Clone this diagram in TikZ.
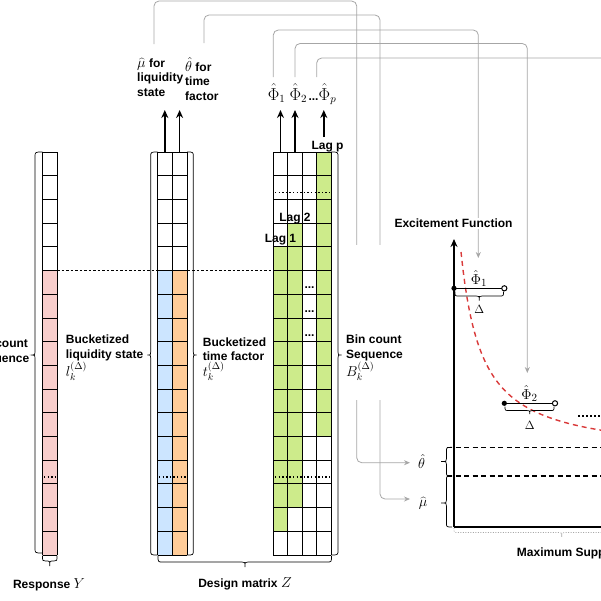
\documentclass[tikz,border=0pt]{standalone}
\usepackage{fontspec}
\setmainfont{Liberation Sans}
\usetikzlibrary{arrows.meta}
\definecolor{cpink}{HTML}{F8CECC}
\definecolor{cblue}{HTML}{CCE5FF}
\definecolor{corange}{HTML}{FFCC99}
\definecolor{cgreen}{HTML}{CDEB8B}
\definecolor{cgray}{HTML}{A6A6A6}
\definecolor{cred}{HTML}{D93A3A}
% vertical brace: [style]{end x}{line x}{tip x}{y1}{ym}{y2}{r}{t}
\newcommand{\vbr}[9][]{\draw[brline,#1] (#2,#5) .. controls (#3,#5) .. (#3,{#5+#8}) -- (#3,{#6-#9}) .. controls (#3,#6) .. (#4,#6) .. controls (#3,#6) .. (#3,{#6+#9}) -- (#3,{#7-#8}) .. controls (#3,#7) .. (#2,#7);}
% horizontal brace: [style]{end y}{line y}{tip y}{x1}{xm}{x2}{r}{t}
\newcommand{\hbr}[9][]{\draw[brline,#1] (#5,#2) .. controls (#5,#3) .. ({#5+#8},#3) -- ({#6-#9},#3) .. controls (#6,#3) .. (#6,#4) .. controls (#6,#3) .. ({#6+#9},#3) -- ({#7-#8},#3) .. controls (#7,#3) .. (#7,#2);}
\newcommand{\mlab}[1]{{\fontsize{14}{14.5}\selectfont$#1$}}
\newcommand{\colcells}[5]{\foreach \r in {#4,...,#5} \fill[#3] (#1,{152+23.7*\r}) rectangle (#2,{152+23.7*(\r+1)});}
\newcommand{\rowlines}[2]{\foreach \r in {0,...,17} \draw[gridl] (#1,{152+23.7*\r}) -- (#2,{152+23.7*\r});}
\begin{document}
\begin{tikzpicture}[x=1pt,y=-1pt,
  txt/.style={font=\fontsize{12}{14.5}\selectfont\bfseries, inner sep=0pt, align=left},
  mth/.style={font=\fontsize{16}{18}\selectfont, inner sep=0pt},
  mthr/.style={font=\fontsize{15}{17}\selectfont, inner sep=0pt},
  mths/.style={font=\fontsize{13}{15}\selectfont, inner sep=0pt},
  gridl/.style={black, line width=0.7pt},
  brline/.style={black, line width=0.7pt},
  gconn/.style={cgray, line width=0.8pt, rounded corners=5pt, -{Stealth[length=6pt,width=5pt]}},
  gline/.style={cgray, line width=0.8pt, rounded corners=5pt},
  barrow/.style={black, line width=1.6pt, -{Stealth[length=8pt,width=7pt]}},
  rowdots/.style={black, line width=1.4pt, dash pattern=on 1.3pt off 2.3pt},
]
\useasboundingbox (0,0) rectangle (601,600);
\clip (0,0) rectangle (601,600);

% ---------- gray connectors ----------
\coordinate (muS) at (154,44);
\coordinate (thS) at (204,43);
\coordinate (p1S) at (273.3,77);
\coordinate (p2S) at (295,77);
\coordinate (ppS) at (316.7,77);
\coordinate (thT) at (410,462.7);
\coordinate (muT) at (410,499);
\coordinate (p1T) at (478.3,258);
\coordinate (p2T) at (527.3,373);
\coordinate (ppT) at (615,58);
\draw[gconn] (muS) -- (154,1) -- (356.7,1) -- (356.7,462.7) -- (thT);
\draw[gconn] (thS) -- (204,15) -- (380,15) -- (380,499) -- (muT);
\draw[gconn] (p1S) -- (273.3,30) -- (478.3,30) -- (p1T);
\draw[gconn] (p2S) -- (295,43.5) -- (527.3,43.5) -- (p2T);
\draw[gline] (ppS) -- (316.7,58) -- (ppT);
\fill[white] (343,245) rectangle (409,400);

% ---------- dashed guide ----------
\draw[black, line width=0.6pt, dash pattern=on 2.5pt off 2pt] (57,270.7) -- (273.3,270.7);

% ---------- response column ----------
\fill[white] (42.5,152) rectangle (57,554.9);
\colcells{42.5}{57}{cpink}{5}{16}
\rowlines{42.5}{57}
\draw[gridl] (42.5,152) -- (42.5,554.9) (57,152) -- (57,554.9);

% ---------- liquidity / time columns ----------
\fill[white] (157.7,152) rectangle (187,554.9);
\colcells{157.7}{172.3}{cblue}{5}{16}
\colcells{172.3}{187}{corange}{5}{16}
\rowlines{157.7}{187}
\foreach \xx in {157.7,172.3,187} \draw[gridl] (\xx,152) -- (\xx,554.9);

% ---------- lag matrix ----------
\fill[white] (273.3,152) rectangle (331,554.9);
\colcells{273.3}{287.7}{cgreen}{4}{15}
\colcells{287.7}{302.2}{cgreen}{3}{14}
\colcells{316.6}{331}{cgreen}{0}{11}
\rowlines{273.3}{331}
\foreach \xx in {273.3,287.7,302.2,316.6,331} \draw[gridl] (\xx,152) -- (\xx,554.9);

% ---------- row dots ----------
\draw[rowdots] (44,477) -- (57,477);
\draw[rowdots] (159,477) -- (187,477);
\draw[rowdots] (275,477) -- (331,477);
\draw[rowdots] (275,192.7) -- (331,192.7);
\foreach \yy in {288.5,312,336} \node[txt, anchor=base] at (309.5,\yy) {...};

% ---------- black arrows ----------
\coordinate (a1) at (164.8,152); \coordinate (a1t) at (164.8,110);
\coordinate (a2) at (179.6,152); \coordinate (a2t) at (179.6,110);
\coordinate (a3) at (280.5,152); \coordinate (a3t) at (280.5,110);
\coordinate (a4) at (295,152);   \coordinate (a4t) at (295,110);
\coordinate (a5) at (323.8,137); \coordinate (a5t) at (323.8,110);
\draw[barrow] (a1) -- (a1t);
\draw[barrow] (a2) -- (a2t);
\draw[barrow] (a3) -- (a3t);
\draw[barrow] (a4) -- (a4t);
\draw[barrow] (a5) -- (a5t);

% ---------- braces ----------
\vbr{42.5}{35}{32}{152}{355}{553}{5}{3}
\vbr{157.7}{150.7}{147.3}{152}{355}{555}{5}{3}
\vbr{187}{193.3}{196.7}{152}{355}{555}{5}{3}
\vbr{331}{338}{341.5}{152}{355}{555}{5}{3}
\hbr{555.5}{561}{566}{42.5}{49.75}{57}{3}{2}
\hbr{556}{562}{567}{158}{245}{331.5}{5}{3}

% ---------- labels ----------
\node[txt, anchor=base west] (mulab) at (137,96.3) {\mlab{\widehat{\mu}} for\\liquidity\\state};
\node[txt, anchor=base west] (thlab) at (185,100) {\mlab{\hat{\theta}} for\\time\\factor};
\node[mth, anchor=base] (phi1) at (276.7,100) {$\hat{\Phi}_1$};
\node[mth, anchor=base] (phi2) at (298.3,100) {$\hat{\Phi}_2$};
\node[txt, anchor=base] (phid) at (313.5,100) {...};
\node[mth, anchor=base] (phip) at (327.5,100) {$\hat{\Phi}_p$};
\node[txt, anchor=base] (lagp) at (327.5,149) {Lag p};
\node[txt, anchor=base] (lag2) at (295,221.5) {Lag 2};
\node[txt, anchor=base] (lag1) at (280.5,242.5) {Lag 1};
\node[txt, anchor=base west] (yseq) at (-27.6,362.2) {Bin count\\Sequence};
\node[txt, anchor=base west] (liq) at (65.7,376.7) {Bucketized\\liquidity state\\\mlab{l_k^{(\Delta)}}};
\node[txt, anchor=base west] (tim) at (202.7,376.7) {Bucketized\\time factor\\\mlab{t_k^{(\Delta)}}};
\node[txt, anchor=base west] (bin) at (346,376.7) {Bin count\\Sequence\\\mlab{B_k^{(\Delta)}}};
\node[txt, anchor=base] (resp) at (49,588.3) {Response \mlab{Y}};
\node[txt, anchor=base] (dm) at (245,587.5) {Design matrix \mlab{Z}};

% ---------- excitement plot ----------
\node[txt, anchor=base, fill=white, inner sep=1pt] (exc) at (453.5,227.8) {Excitement Function};
\coordinate (orig) at (454,527);
\coordinate (ytop) at (454,239);
\coordinate (xend) at (615,527);
\draw[black, line width=1.8pt, -{Stealth[length=8pt,width=7pt]}] (orig) -- (ytop);
\draw[black, line width=1.8pt] (orig) -- (xend);
\draw[cred, line width=1.4pt, dash pattern=on 5pt off 4pt] plot[domain=461:615, samples=80] (\x, {456.9-4303/(\x-440)});
\draw[black, line width=1.3pt, dash pattern=on 5pt off 3.5pt] (447,447.3) -- (615,447.3);
\draw[black, line width=1.3pt, dash pattern=on 5pt off 3.5pt] (447,476) -- (615,476);
\vbr{452}{446.5}{441}{447.3}{461.5}{476}{4}{3}
\vbr{452}{446.5}{441}{476}{503}{527}{4}{3}
\node[mthr] (thR) at (421.7,461.7) {$\hat{\theta}$};
\node[mthr] (muR) at (423,503) {$\widehat{\mu}$};
\hbr[cgray, dash pattern=on 1pt off 1.5pt]{528}{532.5}{537}{454}{561.7}{670}{4}{3}
\node[txt, anchor=base west] (maxs) at (516.7,556.3) {Maximum Support};
% step 1
\coordinate (s1a) at (454,288.3); \coordinate (s1b) at (504.3,288.3);
\draw[black, line width=1.5pt] (s1a) -- (s1b);
\fill[black] (s1a) circle (2.6);
\draw[black, fill=white, line width=1pt] (s1b) circle (2.6);
\hbr{291.5}{296}{300.5}{455}{479.2}{503.5}{4}{3}
\node[mthr, anchor=base] (ph1R) at (479,284.5) {$\hat{\Phi}_1$};
\node[mths, anchor=base] (d1) at (479.2,313) {$\Delta$};
% step 2
\coordinate (s2a) at (504.3,403.3); \coordinate (s2b) at (555,403.3);
\draw[black, line width=1.5pt] (s2a) -- (s2b);
\fill[black] (s2a) circle (2.6);
\draw[black, fill=white, line width=1pt] (s2b) circle (2.6);
\hbr{406.5}{410.5}{414}{505}{529.7}{554}{4}{3}
\node[mthr, anchor=base] (ph2R) at (529.5,399.5) {$\hat{\Phi}_2$};
\node[mths, anchor=base] (d2) at (529.7,429) {$\Delta$};
\draw[black, line width=2pt, dash pattern=on 1.8pt off 2.2pt] (578,416) -- (615,416);
\end{tikzpicture}
\end{document}
